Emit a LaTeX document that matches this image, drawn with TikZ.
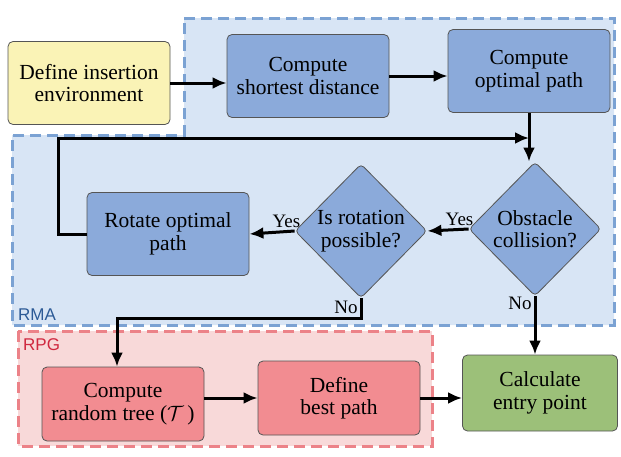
\documentclass[tikz,border=0pt]{standalone}
\usepackage{fontspec}
\setmainfont{Liberation Serif}
\newfontfamily\labfont{Liberation Sans}
\usetikzlibrary{shapes.geometric,arrows.meta}
\definecolor{yfill}{HTML}{FAF3B6}
\definecolor{bfill}{HTML}{8BAADA}
\definecolor{rmabg}{HTML}{D8E5F5}
\definecolor{rmaline}{HTML}{7BA2D3}
\definecolor{rmatext}{HTML}{2C5A96}
\definecolor{pfill}{HTML}{F28C91}
\definecolor{rpgbg}{HTML}{F8D9D9}
\definecolor{rpgline}{HTML}{EC8288}
\definecolor{rpgtext}{HTML}{D0283F}
\definecolor{gfill}{HTML}{9CC079}
\definecolor{edge}{HTML}{555555}
\tikzset{
  box/.style={draw=edge, line width=0.8pt, rounded corners=5pt, minimum width=162pt, minimum height=83pt,
    align=center, font=\fontsize{21.5}{22.5}\selectfont, inner sep=2pt},
  dia/.style={diamond, draw=edge, line width=0.8pt, rounded corners=4pt, fill=bfill, minimum width=132pt,
    minimum height=134pt, inner sep=0pt, align=center, font=\fontsize{21.5}{22.5}\selectfont},
  arr/.style={line width=3pt, -{Latex[length=14pt,width=12pt]}},
  lbl/.style={font=\fontsize{19}{21}\selectfont},
  region/.style={line width=3pt, dash pattern=on 11pt off 6pt},
}
\begin{document}
\begin{tikzpicture}[x=1pt,y=-1pt]
\useasboundingbox (0,0) rectangle (621,456);
% regions
\path[region, draw=rmaline, fill=rmabg] (184,18) -- (614,18) -- (614,325) -- (12,325) -- (12,135) -- (184,135) -- cycle;
\path[region, draw=rpgline, fill=rpgbg] (18,331) rectangle (432,446);
\node[font=\labfont\fontsize{17}{19}\selectfont, text=rmatext, anchor=south west, inner sep=1pt] (rmalab) at (17,322) {RMA};
\node[font=\labfont\fontsize{17}{19}\selectfont, text=rpgtext, anchor=north west, inner sep=1pt] (rpglab) at (22,337) {RPG};
% nodes
\node[box, fill=yfill] (def) at (89,83) {Define insertion\\environment};
\node[box, fill=bfill] (csd) at (308,76) {Compute\\shortest distance};
\node[box, fill=bfill] (cop) at (529,71) {Compute\\optimal path};
\node[dia] (obs) at (535,229) {Obstacle\\collision?};
\node[dia] (isr) at (361,231) {Is rotation\\possible?};
\node[box, fill=bfill] (rot) at (168,234) {Rotate optimal\\path};
\node[box, fill=pfill, minimum height=74pt] (crt) at (123,404) {Compute\\random tree ($\mathcal{T}$\,)};
\node[box, fill=pfill, minimum height=74pt] (dbp) at (339,398) {Define\\best path};
\node[box, fill=gfill, minimum width=155pt, minimum height=76pt] (cep) at (540,393) {Calculate\\entry point};
% connectors
\draw[arr] (def) -- (def -| csd.west);
\draw[arr] (csd) -- (csd -| cop.west);
\draw[arr] (cop.south) -- (cop.south |- obs.north);
\coordinate (lp) at (58,138);
\draw[arr] (rot.west) -- (rot.west -| lp) -- (lp) -- (lp -| cop.south);
\draw[arr] (obs.west) -- node[lbl, above, pos=0.22, inner sep=2pt] {Yes} (isr.east);
\draw[arr] (isr.west) -- node[lbl, above, pos=0.18, inner sep=2pt] {Yes} (rot.east);
\coordinate (nb) at (361,318);
\draw[arr] (isr.south) -- node[lbl, left, pos=0.45, inner sep=2pt] {No} (nb) -- ([xshift=-6pt]crt.north |- nb) -- ([xshift=-6pt]crt.north);
\draw[arr] (obs.south) -- node[lbl, left, pos=0.12, inner sep=2pt] {No} (obs.south |- cep.north);
\draw[arr] (dbp) -- (dbp -| cep.west);
\draw[arr] (crt.east |- dbp) -- (dbp.west);
\end{tikzpicture}
\end{document}
